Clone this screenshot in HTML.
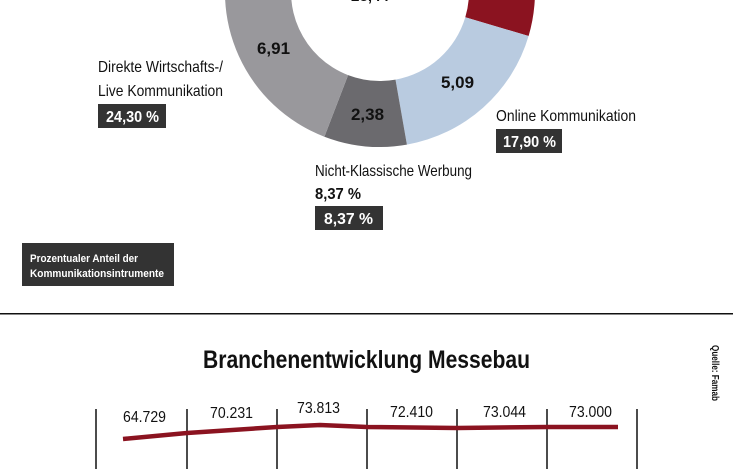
<!DOCTYPE html>
<html><head><meta charset="utf-8"><style>
html,body{margin:0;padding:0;background:#fff;width:733px;height:469px;overflow:hidden}
svg{display:block;font-family:"Liberation Sans Narrow","Liberation Sans",sans-serif}
</style></head><body>
<svg width="733" height="469" viewBox="0 0 733 469">
<path d="M514.2,-85.5 A155,155 0 0 1 528.6,36 L465.3,17.3 A89,89 0 0 0 457.1,-52.5 Z" fill="#8b1320"/>
<path d="M528.6,36 A155,155 0 0 1 406.9,144.6 L395.5,79.6 A89,89 0 0 0 465.3,17.3 Z" fill="#b9cbe0"/>
<path d="M406.9,144.6 A155,155 0 0 1 324.4,136.7 L348.1,75.1 A89,89 0 0 0 395.5,79.6 Z" fill="#6b6a6e"/>
<path d="M324.4,136.7 A155,155 0 0 1 234.3,-61 L296.4,-38.4 A89,89 0 0 0 348.1,75.1 Z" fill="#99989c"/>
<g font-weight="bold" font-size="17" fill="#111">
<text x="351" y="1" textLength="38" lengthAdjust="spacingAndGlyphs">23,44</text>
<text x="257" y="54" textLength="33" lengthAdjust="spacingAndGlyphs">6,91</text>
<text x="441" y="88" textLength="33" lengthAdjust="spacingAndGlyphs">5,09</text>
<text x="351" y="120" textLength="33" lengthAdjust="spacingAndGlyphs">2,38</text>
</g>
<g font-size="16" fill="#111">
<text x="98" y="72" textLength="125" lengthAdjust="spacingAndGlyphs">Direkte Wirtschafts-/</text>
<text x="98" y="96" textLength="125" lengthAdjust="spacingAndGlyphs">Live Kommunikation</text>
<text x="496" y="121" textLength="140" lengthAdjust="spacingAndGlyphs">Online Kommunikation</text>
<text x="315" y="176" textLength="157" lengthAdjust="spacingAndGlyphs">Nicht-Klassische Werbung</text>
<text x="315" y="199" font-weight="bold" textLength="46" lengthAdjust="spacingAndGlyphs">8,37 %</text>
</g>
<rect x="98" y="104" width="68" height="24" fill="#333"/>
<rect x="496" y="129" width="66" height="24" fill="#333"/>
<rect x="315" y="206" width="68" height="24" fill="#333"/>
<g font-size="16" font-weight="bold" fill="#fff">
<text x="106" y="122" textLength="53" lengthAdjust="spacingAndGlyphs">24,30 %</text>
<text x="503" y="147" textLength="53" lengthAdjust="spacingAndGlyphs">17,90 %</text>
<text x="324" y="224" textLength="49" lengthAdjust="spacingAndGlyphs">8,37 %</text>
</g>
<rect x="22" y="243" width="152" height="43" fill="#333"/>
<g font-size="11" font-weight="bold" fill="#fff">
<text x="30" y="262" textLength="108" lengthAdjust="spacingAndGlyphs">Prozentualer Anteil der</text>
<text x="30" y="277" textLength="134" lengthAdjust="spacingAndGlyphs">Kommunikationsintrumente</text>
</g>
<rect x="0" y="313" width="733" height="1.5" fill="#111"/>
<text x="203" y="368" font-size="25" font-weight="bold" fill="#111" textLength="327" lengthAdjust="spacingAndGlyphs">Branchenentwicklung Messebau</text>
<text transform="translate(712,345) rotate(90)" font-size="10" font-weight="bold" fill="#111" textLength="56" lengthAdjust="spacingAndGlyphs">Quelle: Famab</text>
<g stroke="#111" stroke-width="1.5">
<line x1="96" y1="409" x2="96" y2="469"/><line x1="187" y1="409" x2="187" y2="469"/>
<line x1="277" y1="409" x2="277" y2="469"/><line x1="367" y1="409" x2="367" y2="469"/>
<line x1="457" y1="409" x2="457" y2="469"/><line x1="547" y1="409" x2="547" y2="469"/>
<line x1="637" y1="409" x2="637" y2="469"/>
</g>
<g font-size="16" fill="#111">
<text x="123" y="422" textLength="43" lengthAdjust="spacingAndGlyphs">64.729</text>
<text x="210" y="418" textLength="43" lengthAdjust="spacingAndGlyphs">70.231</text>
<text x="297" y="413" textLength="43" lengthAdjust="spacingAndGlyphs">73.813</text>
<text x="390" y="417" textLength="43" lengthAdjust="spacingAndGlyphs">72.410</text>
<text x="483" y="417" textLength="43" lengthAdjust="spacingAndGlyphs">73.044</text>
<text x="569" y="417" textLength="43" lengthAdjust="spacingAndGlyphs">73.000</text>
</g>
<polyline points="123,439 187,433 277,427 320,425 367,427 457,428 547,427 618,427" fill="none" stroke="#8b1320" stroke-width="4.5"/>
</svg>
</body></html>
